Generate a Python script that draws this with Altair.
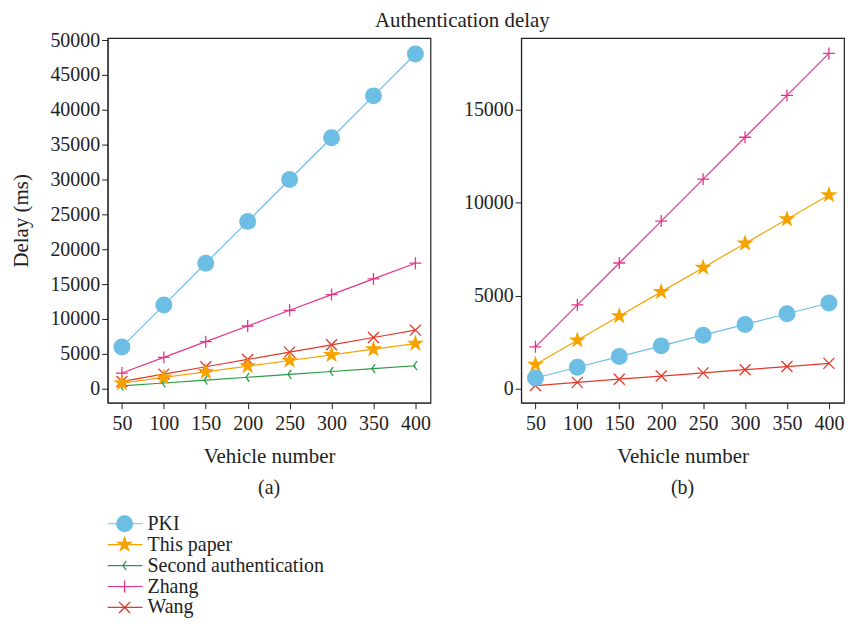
import altair as alt
import pandas as pd

vehicles = [50, 100, 150, 200, 250, 300, 350, 400]
series_order = ["PKI", "This paper", "Second authentication", "Zhang", "Wang"]

a_pki = [6000, 12000, 18000, 24000, 30000, 36000, 42000, 48000]
a_this = [810, 1620, 2430, 3240, 4050, 4860, 5670, 6480]
a_second = [410, 820, 1240, 1650, 2060, 2470, 2890, 3300]
a_zhang = [2250, 4500, 6750, 9000, 11250, 13500, 15750, 18000]
a_wang = [1050, 2100, 3150, 4200, 5250, 6300, 7350, 8400]

b_pki = [575, 1150, 1725, 2300, 2875, 3450, 4025, 4600]
b_this = [1300, 2600, 3900, 5200, 6500, 7800, 9100, 10400]
b_zhang = [2250, 4500, 6750, 9000, 11250, 13500, 15750, 18000]
b_wang = [170, 340, 510, 680, 850, 1020, 1190, 1360]

colors = ["#6dbee4", "#f6a300", "#2a9a47", "#e6348b", "#e2382b"]
shapes = ["circle", "M0,-1.05L0.24,-0.33L1,-0.33L0.38,0.12L0.62,0.85L0,0.4L-0.62,0.85L-0.38,0.12L-1,-0.33L-0.24,-0.33Z",
          "M0.35,-1L-0.35,0L0.35,1", "M-1,0L1,0M0,-1L0,1", "M-1,-1L1,1M-1,1L1,-1"]
sizes = [290, 300, 81, 144, 121]
legend_sizes = [225, 210, 64, 110, 121]
filled_series = ["PKI", "This paper"]

FONT = "Liberation Serif"


def frame(series_map):
    rows = []
    for name, vals in series_map.items():
        for v, d in zip(vehicles, vals):
            rows.append({"vehicle": v, "delay": d, "series": name})
    return pd.DataFrame(rows)


df_a = frame({"PKI": a_pki, "This paper": a_this, "Second authentication": a_second,
              "Zhang": a_zhang, "Wang": a_wang})
df_b = frame({"PKI": b_pki, "This paper": b_this, "Zhang": b_zhang, "Wang": b_wang})

color_scale = alt.Scale(domain=series_order, range=colors)
shape_scale = alt.Scale(domain=series_order, range=shapes)


def point_layers(base, extra, size_list):
    size_scale = alt.Scale(type="ordinal", domain=series_order, range=size_list)
    enc = dict(color=alt.Color("series:N", scale=color_scale, legend=None),
               shape=alt.Shape("series:N", scale=shape_scale, legend=None),
               size=alt.Size("series:N", scale=size_scale, legend=None), **extra)
    pf = base.transform_filter(
        alt.FieldOneOfPredicate(field="series", oneOf=filled_series)
    ).mark_point(filled=True, opacity=1).encode(**enc)
    ps = base.transform_filter(
        {"not": alt.FieldOneOfPredicate(field="series", oneOf=filled_series)}
    ).mark_point(filled=False, opacity=1, strokeWidth=1.3).encode(**enc)
    return ps, pf


def panel(df, ydomain, yvalues, ytitle, label):
    x = alt.X("vehicle:Q", scale=alt.Scale(domain=[33, 418], nice=False, zero=False),
              axis=alt.Axis(values=vehicles, format="d", title="Vehicle number",
                            titlePadding=12, labelPadding=5))
    if ytitle:
        yax = alt.Axis(values=yvalues, format="d", title=ytitle, titlePadding=18)
    else:
        yax = alt.Axis(values=yvalues, format="d", title=None)
    y = alt.Y("delay:Q", scale=alt.Scale(domain=ydomain, nice=False, zero=False), axis=yax)
    base = alt.Chart(df).encode(x=x, y=y)
    lines = base.mark_line(strokeWidth=1.2).encode(
        color=alt.Color("series:N", scale=color_scale, legend=None),
        detail="series:N")
    ps, pf = point_layers(base, {}, sizes)
    return alt.layer(lines, ps, pf).properties(
        width=324, height=366,
        title=alt.TitleParams(label, orient="bottom", fontSize=20, font=FONT,
                              fontWeight="normal", offset=12, color="#222"))


pa = panel(df_a, [-2000, 50300], list(range(0, 50001, 5000)), "Delay (ms)", "(a)")
pb = panel(df_b, [-750, 18830], [0, 5000, 10000, 15000], None, "(b)")

top = alt.hconcat(pa, pb, spacing=31).properties(
    title=alt.TitleParams("Authentication delay", anchor="middle", fontSize=21, font=FONT,
                          fontWeight="normal", color="#222", offset=-1, dx=35))

leg_df = pd.DataFrame({"series": series_order})
ly = alt.Y("series:N", scale=alt.Scale(domain=series_order), axis=None)
leg_color = alt.Color("series:N", scale=color_scale, legend=None)
leg_base = alt.Chart(leg_df).encode(y=ly)
leg_rule = leg_base.mark_rule(strokeWidth=1.2).encode(x=alt.value(0), x2=alt.value(35), color=leg_color)
leg_ps, leg_pf = point_layers(leg_base, {"x": alt.value(17)}, legend_sizes)
leg_text = leg_base.mark_text(align="left", baseline="middle", font=FONT, fontSize=20,
                              color="#222").encode(x=alt.value(40), text="series:N")
legend = alt.layer(leg_rule, leg_ps, leg_pf, leg_text).properties(
    width=300, height=105, view=alt.ViewBackground(stroke="transparent"))

chart = alt.vconcat(top, legend, spacing=13).properties(
    padding={"left": 2, "top": 0, "right": 2, "bottom": 0}, background="white"
).configure_view(
    stroke="#222", strokeWidth=1.2
).configure_axis(
    grid=False, domainColor="#222", tickColor="#222", labelColor="#222", titleColor="#222",
    labelFont=FONT, titleFont=FONT, labelFontSize=20, titleFontSize=21, titleFontWeight="normal",
    tickSize=6
)

chart.save("out.html", embed_options={"renderer": "svg", "actions": False})
